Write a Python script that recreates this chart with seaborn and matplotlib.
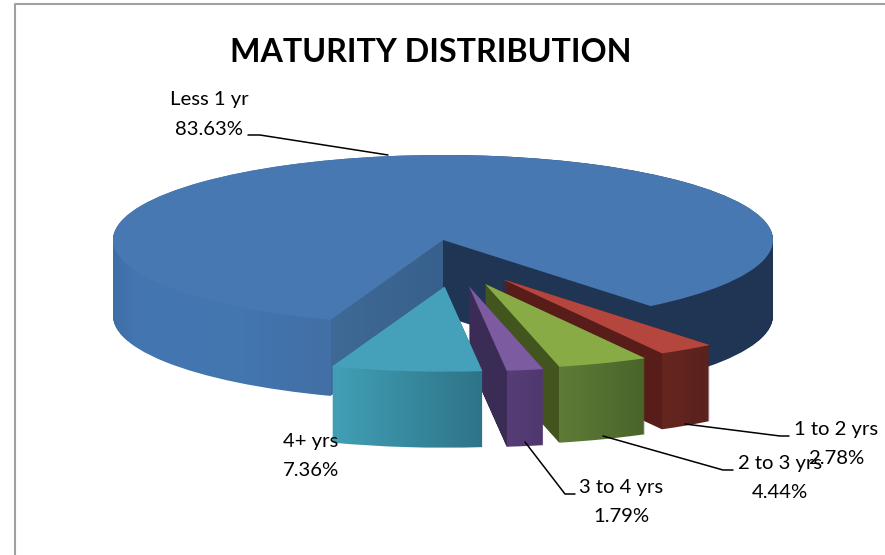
import numpy as np
import matplotlib
matplotlib.use("Agg")
import matplotlib.pyplot as plt
from matplotlib.lines import Line2D
from matplotlib.patches import PathPatch
from matplotlib.path import Path
from matplotlib.transforms import Affine2D
import seaborn as sns

categories = ["Less 1 yr", "4+ yrs", "3 to 4 yrs", "2 to 3 yrs", "1 to 2 yrs"]
values = [83.63, 7.36, 1.79, 4.44, 2.78]
value_labels = ["83.63%", "7.36%", "1.79%", "4.44%", "2.78%"]
top_colors = ["#4778b1", "#45a0ba", "#7c5ba0", "#88ab45", "#b5463e"]

W, H = 885, 555
CX, CY, RX, RY = 443, 240, 330, 85
DEPTH = 76 / RY
START = -51

sns.set_theme(style="white")
plt.rcParams["font.family"] = ["Lato", "DejaVu Sans"]

fig = plt.figure(figsize=(W / 100, H / 100), dpi=100, facecolor="white")
ax = fig.add_axes([0, 0, 1, 1])

wedges, _ = ax.pie(values, startangle=START, counterclock=True, radius=1,
                   colors=sns.color_palette(top_colors), wedgeprops=dict(linewidth=0))

def hexarr(c):
    return np.array(matplotlib.colors.to_rgb(c))

def side_image(stops, xmin, xmax, n=900):
    xs = np.linspace(xmin, xmax, n)
    xp = np.array([s[0] for s in stops])
    cp = np.array([hexarr(s[1]) for s in stops])
    return np.stack([np.interp(xs, xp, cp[:, i]) for i in range(3)], axis=-1)[None, :, :]

draw_order = [0, 4, 3, 2, 1]
for rank, i in enumerate(draw_order):
    w = wedges[i]
    mid = np.deg2rad((w.theta1 + w.theta2) / 2)
    if i != 0:
        dx = (11.5 + 85 * np.cos(mid)) / RX
        dy = 47 * np.sin(mid) / RY
        w.set_center((dx, dy))
    cx, cy = w.center
    t1, t2 = np.deg2rad(w.theta1), np.deg2rad(w.theta2)
    xs_arc = cx + np.cos(np.linspace(t1, t2, 400))
    xmin, xmax = min(xs_arc.min(), cx), max(xs_arc.max(), cx)
    if i == 0:
        c2 = cx + np.cos(t2)
        stops = [(-1, "#3e6ea6"), (-0.93, "#4476b2"), (-0.6, "#4375af"), (c2 - 1e-4, "#426fa5"),
                 (c2, "#3f6996"), (cx - 1e-4, "#38608c"), (cx, "#1f3553"), (1, "#1f3553")]
    else:
        corner = cx + min(np.cos(t1), np.cos(t2))
        left_col, o1, o2 = {1: ("#3f9cb3", "#41a0b6", "#2e7387"),
                            2: ("#3b2c55", "#563d77", "#4f386e"),
                            3: ("#43551f", "#5e7c36", "#4a642b"),
                            4: ("#581d19", "#662620", "#5a211d")}[i]
        stops = [(xmin, left_col), (corner - 1e-4, left_col), (corner, o1), (xmax, o2)]
    base = w.get_path()
    layers = [base.transformed(Affine2D().translate(0, -DEPTH * k / 76)) for k in range(0, 77)]
    clip = PathPatch(Path.make_compound_path(*layers), transform=ax.transData,
                     facecolor="none", edgecolor="none")
    ax.add_patch(clip)
    im = ax.imshow(side_image(stops, xmin, xmax), extent=(xmin, xmax, cy - DEPTH - 1.2, cy + 1.2),
                   aspect="auto", zorder=2 * rank + 1, interpolation="nearest")
    im.set_clip_path(clip)
    w.set_zorder(2 * rank + 2)

ax.set_aspect("auto")
ax.set_xlim(-CX / RX, (W - CX) / RX)
ax.set_ylim(-(H - CY) / RY, CY / RY)
ax.axis("off")

def P(x, y):
    return x / W, 1 - y / H

def leader(*pts):
    xs, ys = zip(*[P(*p) for p in pts])
    fig.add_artist(Line2D(xs, ys, transform=fig.transFigure, color="black", lw=1.1, zorder=20))

fig.add_artist(Line2D(*zip(P(15, 555), P(15, 4), P(885, 4)),
                      transform=fig.transFigure, color="#a0a0a0", lw=1.5, zorder=20))

leader((248, 135), (260, 135), (388, 155))
leader((685, 424), (780, 436), (789, 436))
leader((603, 436), (723, 470), (733, 470))
leader((525, 442), (565, 494), (575, 494))

label_pos = {"Less 1 yr": (209, 100), "4+ yrs": (311, 441), "3 to 4 yrs": (621, 487),
             "2 to 3 yrs": (780, 463), "1 to 2 yrs": (836, 429)}
for c, v in zip(categories, value_labels):
    x, y = label_pos[c]
    fx, fy = P(x, y)
    fig.text(fx, fy, c, ha="center", va="center", fontsize=14.6, color="black", zorder=30)
    fx, fy = P(x, y + 29)
    fig.text(fx, fy, v, ha="center", va="center", fontsize=14.6, color="black", zorder=30)

fx, fy = P(431, 53)
fig.text(fx, fy, "MATURITY DISTRIBUTION", ha="center", va="center", fontsize=23.2,
         fontweight="bold", color="black", zorder=30)

fig.savefig("out.png", dpi=100, facecolor="white")
